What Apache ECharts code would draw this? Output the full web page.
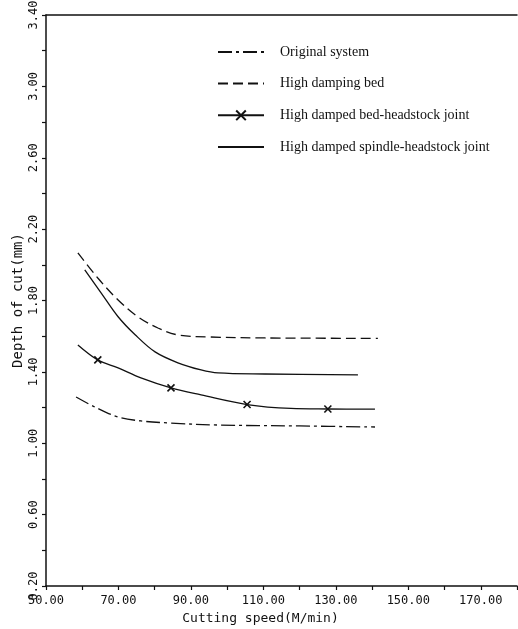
<!DOCTYPE html>
<html>
<head>
<meta charset="utf-8">
<script src="https://cdn.jsdelivr.net/npm/echarts@6/dist/echarts.min.js"></script>
<style>
html,body{margin:0;padding:0;background:#fff;}
#c{width:518px;height:629px;}
</style>
</head>
<body>
<div id="c"></div>
<script>
// ---- data ----
var seriesNames = ['Original system', 'High damping bed', 'High damped bed-headstock joint', 'High damped spindle-headstock joint'];

var originalX = [58.3, 63.5, 69.9, 76.2, 83.7, 97.5, 120, 140.8];
var originalY = [1.259, 1.203, 1.147, 1.125, 1.114, 1.102, 1.097, 1.091];

var dampBedX = [58.8, 64.3, 69.9, 75.4, 80.9, 86.4, 94.7, 110.4, 141.6];
var dampBedY = [2.067, 1.926, 1.803, 1.708, 1.646, 1.607, 1.596, 1.590, 1.588];

var bedHeadX = [58.8, 64.3, 69.9, 76.2, 84.5, 92.8, 105.5, 117.6, 127.8, 140.8];
var bedHeadY = [1.551, 1.467, 1.422, 1.366, 1.310, 1.271, 1.217, 1.195, 1.192, 1.191];
var bedHeadMarked = [false, true, false, false, true, false, true, false, true, false];

var spindleX = [60.7, 65.2, 69.9, 74.6, 80.1, 86.4, 92.8, 97.5, 110.4, 136.1];
var spindleY = [1.971, 1.843, 1.709, 1.608, 1.512, 1.451, 1.411, 1.394, 1.388, 1.383];

var xMin = 50, xMax = 180, xStep = 10;
var yMin = 0.2, yMax = 3.4, yStep = 0.2;

function pairs(xs, ys) { return xs.map(function (x, i) { return [x, ys[i]]; }); }

var chart = echarts.init(document.getElementById('c'));
var crossPath = 'path://M0,0L10,10M10,0L0,10';
var monoFont = 'DejaVu Sans Mono';

var bedHeadData = bedHeadX.map(function (x, i) {
  return bedHeadMarked[i] ? { value: [x, bedHeadY[i]] } : { value: [x, bedHeadY[i]], symbol: 'none' };
});

chart.setOption({
  animation: false,
  backgroundColor: '#fff',
  grid: { left: 46, right: 1, top: 15, bottom: 43, outerBoundsMode: 'none', containLabel: false },
  legend: {
    orient: 'vertical',
    left: 212,
    top: 40,
    itemWidth: 46,
    itemHeight: 12,
    itemGap: 17.5,
    textStyle: { fontFamily: 'Liberation Serif', fontSize: 14, color: '#111', padding: [0, 0, 0, 11] },
    data: [
      { name: seriesNames[0], itemStyle: { opacity: 0 } },
      { name: seriesNames[1], itemStyle: { opacity: 0 } },
      { name: seriesNames[2] },
      { name: seriesNames[3], itemStyle: { opacity: 0 } }
    ]
  },
  xAxis: [{
    type: 'value',
    min: xMin, max: xMax, interval: xStep,
    name: 'Cutting speed(M/min)',
    nameLocation: 'middle',
    nameGap: 26,
    nameMoveOverlap: false,
    nameTextStyle: { fontFamily: monoFont, fontSize: 13, color: '#111', padding: [0, 42, 0, 0] },
    axisLine: { lineStyle: { color: '#111', width: 1.5 } },
    axisTick: { show: true, inside: false, length: 4, lineStyle: { color: '#111', width: 1.2 } },
    axisLabel: {
      fontFamily: monoFont, fontSize: 12, color: '#111', margin: 9,
      formatter: function (v) {
        var k = Math.round(v - xMin);
        return (k % 20 === 0 && v < xMax) ? v.toFixed(2) : '';
      }
    },
    splitLine: { show: false }
  }, {
    type: 'value', position: 'top',
    min: xMin, max: xMax,
    axisLine: { show: true, lineStyle: { color: '#111', width: 1.5 } },
    axisTick: { show: false }, axisLabel: { show: false }, splitLine: { show: false }
  }],
  yAxis: {
    type: 'value',
    min: yMin, max: yMax, interval: yStep,
    name: 'Depth of cut(mm)',
    nameLocation: 'middle',
    nameGap: 21,
    nameMoveOverlap: false,
    nameTextStyle: { fontFamily: monoFont, fontSize: 14, color: '#111' },
    axisLine: { show: true, lineStyle: { color: '#111', width: 1.5 } },
    axisTick: { show: true, inside: false, length: 4, lineStyle: { color: '#111', width: 1.2 } },
    axisLabel: {
      rotate: 90, fontFamily: monoFont, fontSize: 12, color: '#111', margin: 6,
      formatter: function (v) {
        var k = Math.round((v - yMin) * 10);
        return (k % 4 === 0) ? v.toFixed(2) : '';
      }
    },
    splitLine: { show: false }
  },
  series: [{
    name: seriesNames[0], type: 'line', smooth: 0.35, symbol: 'none',
    data: pairs(originalX, originalY),
    lineStyle: { color: '#111', width: 1.3, type: [14, 4, 3, 4] },
    itemStyle: { color: '#111' }
  }, {
    name: seriesNames[1], type: 'line', smooth: 0.35, symbol: 'none',
    data: pairs(dampBedX, dampBedY),
    lineStyle: { color: '#111', width: 1.3, type: [10, 5] },
    itemStyle: { color: '#111' }
  }, {
    name: seriesNames[2], type: 'line', smooth: 0.35,
    symbol: crossPath, symbolSize: 7, showSymbol: true,
    data: bedHeadData,
    lineStyle: { color: '#111', width: 1.3 },
    itemStyle: { color: 'none', borderColor: '#111', borderWidth: 1.6 }
  }, {
    name: seriesNames[3], type: 'line', smooth: 0.35, symbol: 'none',
    data: pairs(spindleX, spindleY),
    lineStyle: { color: '#111', width: 1.3 },
    itemStyle: { color: '#111' }
  }]
});
</script>
</body>
</html>
